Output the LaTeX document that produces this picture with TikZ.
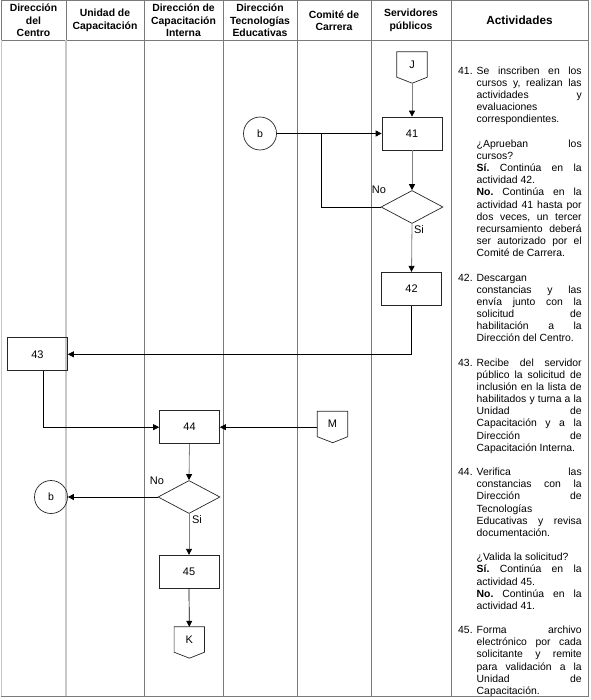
\documentclass[tikz,border=0pt]{standalone}
\usepackage{fontspec}
\setmainfont{Liberation Sans}
\usetikzlibrary{arrows.meta,shapes.geometric,calc}
\definecolor{gridc}{RGB}{122,122,122}
\definecolor{gridl}{RGB}{200,200,200}
\definecolor{vline}{RGB}{128,128,128}
\frenchspacing
\newlength\actw \setlength\actw{105pt}
\newcommand\JL[1]{\hbox{\hspace*{18.5pt}\makebox[\actw][s]{#1}}}
\newcommand\LL[1]{\hbox{\hspace*{18.5pt}#1}}
\newcommand\NJ[2]{\hbox{\makebox[18.5pt][l]{#1}\makebox[\actw][s]{#2}}}
\newcommand\NL[2]{\hbox{\makebox[18.5pt][l]{#1}#2}}
\newcommand\BL{\hbox{}}
\begin{document}
\begin{tikzpicture}[x=1pt,y=-1pt,
  grid/.style={draw=gridc,line width=0.8pt},
  gridlight/.style={draw=gridl,line width=1.6pt},
  hdr/.style={align=center,font=\fontsize{10.4}{12.5}\selectfont\bfseries,inner sep=0pt},
  box/.style={draw=black!85,line width=0.7pt,minimum width=60pt,minimum height=33pt,inner sep=0pt,font=\fontsize{11}{13}\selectfont},
  dia/.style={diamond,draw=black!85,line width=0.7pt,minimum width=62pt,minimum height=33pt,inner sep=0pt},
  conn/.style={circle,draw=black!85,line width=0.7pt,minimum size=33pt,inner sep=0pt,font=\fontsize{10.5}{12}\selectfont},
  off/.style={minimum width=30pt,minimum height=25pt,inner sep=0pt,font=\fontsize{11}{13}\selectfont},
  offline/.style={draw=black!85,line width=0.7pt},
  lbl/.style={inner sep=0pt,font=\fontsize{11}{13}\selectfont},
  flow/.style={draw=black,line width=0.7pt,-{Triangle[length=6pt,width=6pt]}},
  vflow/.style={draw=vline,line width=0.8pt,-{Triangle[length=6pt,width=6pt,color=black]}},
  plain/.style={draw=black,line width=0.7pt}]
\useasboundingbox (0,0) rectangle (590,700);
% table
\draw[grid] (1,0.5) rectangle (588,696);
\foreach \xx in {144,223,297,371,451} \draw[grid] (\xx,0.5) -- (\xx,696);
\draw[grid] (1,40) -- (588,40);
\draw[gridlight] (1.5,40.4) -- (1.5,695.6);
\draw[gridlight] (66,40.4) -- (66,695.6);
\draw[grid] (66,0.5) -- (66,40);
% header
\node[hdr] (h1) at (33.5,20.5) {Dirección\\del\\Centro};
\node[hdr] (h2) at (105,20.5) {Unidad de\\Capacitación};
\node[hdr] (h3) at (183.5,20.5) {Dirección de\\Capacitación\\Interna};
\node[hdr] (h4) at (260,20.5) {Dirección\\Tecnologías\\Educativas};
\node[hdr] (h5) at (334,20.5) {Comité de\\Carrera};
\node[hdr] (h6) at (411,20.5) {Servidores\\públicos};
\node[hdr,font=\fontsize{11.8}{13}\selectfont\bfseries] (h7) at (519.5,20.5) {Actividades};
% flow nodes
\node[off] (J) at (412,64.5) {J};
\draw[offline] (J.north west) -- (J.north east) -- (J.south east) -- ++(-15,6) -- (J.south west) -- cycle;
\coordinate (Jtip) at ($(J.south)+(0,6)$);
\node[box] (n41) at (412,133.5) {41};
\node[conn] (b1) at (260,133.5) {b};
\node[dia] (d1) at (412,207) {};
\node[box] (n42) at (411.5,288.7) {42};
\node[box] (n43) at (37.5,354.3) {43};
\node[box] (n44) at (189.5,427.2) {44};
\node[off] (M) at (332.5,424) {M};
\draw[offline] (M.north west) -- (M.north east) -- (M.south east) -- ++(-15,6) -- (M.south west) -- cycle;
\node[dia] (d2) at (189,497) {};
\node[conn] (b2) at (51,497) {b};
\node[box] (n45) at (189,571.7) {45};
\node[off] (K) at (189.3,639.5) {K};
\draw[offline] (K.north west) -- (K.north east) -- (K.south east) -- ++(-15,6) -- (K.south west) -- cycle;
% labels
\node[lbl] (no1) at (379,190) {No};
\node[lbl] (si1) at (419,230) {Si};
\node[lbl] (no2) at (157,481) {No};
\node[lbl] (si2) at (197,520) {Si};
% connectors
\coordinate (j1) at (321,133.5);
\draw[vflow] (Jtip) -- (n41.north);
\draw[flow] (b1.east) -- (n41.west);
\draw[plain] (d1.west) -| (j1);
\draw[vflow] (n41.south) -- (d1.north);
\draw[vflow] (d1.south) -- (n42.north);
\draw[flow] (n42.south) |- (n43.east);
\coordinate (c43) at ($(n43.south)+(6,0)$);
\draw[flow] (c43) |- (n44.west);
\draw[flow] (M.west |- n44.east) -- (n44.east);
\draw[vflow] (n44.south) -- (d2.north);
\draw[flow] (d2.west) -- (b2.east);
\draw[vflow] (d2.south) -- (n45.north);
\draw[flow] (n45.south) -- (K.north);
% activities
\node[anchor=base west,inner sep=0pt] (act) at (458,74.3) {\vtop{\fontsize{10.4pt}{12.16pt}\selectfont
\NJ{41.}{Se inscriben en los}
\JL{cursos y, realizan las}
\JL{actividades y}
\LL{evaluaciones}
\LL{correspondientes.}
\BL
\JL{¿Aprueban los}
\LL{cursos?}
\JL{\textbf{Sí.} Continúa en la}
\LL{actividad 42.}
\JL{\textbf{No.} Continúa en la}
\JL{actividad 41 hasta por}
\JL{dos veces, un tercer}
\JL{recursamiento deberá}
\JL{ser autorizado por el}
\LL{Comité de Carrera.}
\BL
\NL{42.}{Descargan}
\JL{constancias y las}
\JL{envía junto con la}
\JL{solicitud de}
\JL{habilitación a la}
\LL{Dirección del Centro.}
\BL
\NJ{43.}{Recibe del servidor}
\JL{público la solicitud de}
\JL{inclusión en la lista de}
\JL{habilitados y turna a la}
\JL{Unidad de}
\JL{Capacitación y a la}
\JL{Dirección de}
\LL{Capacitación Interna.}
\BL
\NJ{44.}{Verifica las}
\JL{constancias con la}
\JL{Dirección de}
\LL{Tecnologías}
\JL{Educativas y revisa}
\LL{documentación.}
\BL
\LL{¿Valida la solicitud?}
\JL{\textbf{Sí.} Continúa en la}
\LL{actividad 45.}
\JL{\textbf{No.} Continúa en la}
\LL{actividad 41.}
\BL
\NJ{45.}{Forma archivo}
\JL{electrónico por cada}
\JL{solicitante y remite}
\JL{para validación a la}
\JL{Unidad de}
\LL{Capacitación.}
}};
\end{tikzpicture}
\end{document}
